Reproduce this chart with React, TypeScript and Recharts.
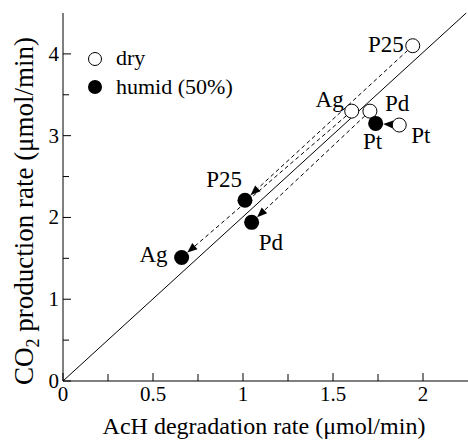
import React from "react";
import { ScatterChart, Scatter, XAxis, YAxis, ReferenceLine, Customized } from "recharts";

// catalysts in the same order for every series
const catalysts = ["P25", "Ag", "Pd", "Pt"];
const dryAcH = [1.943, 1.604, 1.705, 1.868];
const dryCO2 = [4.1, 3.3, 3.3, 3.13];
const humidAcH = [1.011, 0.659, 1.048, 1.737];
const humidCO2 = [2.21, 1.51, 1.94, 3.15];

const xTicks = [0, 0.25, 0.5, 0.75, 1, 1.25, 1.5, 1.75, 2];
const xLabels = [0, 0.5, 1, 1.5, 2];
const yTicks = [0, 0.5, 1, 1.5, 2, 2.5, 3, 3.5, 4];
const yLabels = [0, 1, 2, 3, 4];
const parityLine = [
  { x: 0, y: 0 },
  { x: 2.24, y: 4.5 },
];

const dryData = catalysts.map((name, i) => ({ name, x: dryAcH[i], y: dryCO2[i] }));
const humidData = catalysts.map((name, i) => ({ name, x: humidAcH[i], y: humidCO2[i] }));

const FONT = "Liberation Serif";

// where each point's name sits relative to its marker
const dryLabel: Record<string, { dx: number; dy: number; anchor: string }> = {
  P25: { dx: -9, dy: 6, anchor: "end" },
  Ag: { dx: -8, dy: -4, anchor: "end" },
  Pd: { dx: 15, dy: 0, anchor: "start" },
  Pt: { dx: 12, dy: 18, anchor: "start" },
};
const humidLabel: Record<string, { dx: number; dy: number; anchor: string }> = {
  P25: { dx: -3, dy: -13, anchor: "end" },
  Ag: { dx: -14, dy: 4, anchor: "end" },
  Pd: { dx: 7, dy: 28, anchor: "start" },
  Pt: { dx: -3, dy: 26, anchor: "middle" },
};

const DryDot = (props: any) => {
  const { cx, cy, payload } = props;
  const p = dryLabel[payload.name];
  return (
    <g>
      <circle cx={cx} cy={cy} r={7} fill="#fff" stroke="#000" strokeWidth={1} />
      <text x={cx + p.dx} y={cy + p.dy} textAnchor={p.anchor} fontSize={23} fontFamily={FONT} fill="#000">
        {payload.name}
      </text>
    </g>
  );
};

const HumidDot = (props: any) => {
  const { cx, cy, payload } = props;
  const p = humidLabel[payload.name];
  return (
    <g>
      <circle cx={cx} cy={cy} r={7.5} fill="#000" />
      <text x={cx + p.dx} y={cy + p.dy} textAnchor={p.anchor} fontSize={23} fontFamily={FONT} fill="#000">
        {payload.name}
      </text>
    </g>
  );
};

const arrowShape = (dashed: boolean) => (props: any) => {
  const { x1, y1, x2, y2 } = props;
  const dx = x2 - x1;
  const dy = y2 - y1;
  const len = Math.sqrt(dx * dx + dy * dy);
  const ux = dx / len;
  const uy = dy / len;
  const sx = x1 + ux * 7;
  const sy = y1 + uy * 7;
  const tx = x2 - ux * 7.5;
  const ty = y2 - uy * 7.5;
  const head = 10;
  const bx = tx - ux * head;
  const by = ty - uy * head;
  const px = -uy * 4;
  const py = ux * 4;
  return (
    <g>
      <line x1={sx} y1={sy} x2={bx} y2={by} stroke="#000" strokeWidth={1} strokeDasharray={dashed ? "4 3" : undefined} />
      <polygon points={`${tx},${ty} ${bx + px},${by + py} ${bx - px},${by - py}`} fill="#000" />
    </g>
  );
};

const BottomTick = (props: any) => {
  const { x, y, payload } = props;
  const major = xLabels.includes(payload.value);
  return (
    <g>
      <line x1={x} y1={y} x2={x} y2={y - (major ? 8 : 7)} stroke="#000" />
      {major && (
        <text x={x} y={y + 20} textAnchor="middle" fontSize={21} fontFamily={FONT} fill="#000">
          {payload.value}
        </text>
      )}
    </g>
  );
};

const TopTick = (props: any) => {
  const { x, y, payload } = props;
  const major = xLabels.includes(payload.value);
  return <line x1={x} y1={y} x2={x} y2={y + (major ? 8 : 7)} stroke="#000" />;
};

const LeftTick = (props: any) => {
  const { x, y, payload } = props;
  const major = yLabels.includes(payload.value);
  return (
    <g>
      <line x1={x} y1={y} x2={x + (major ? 8 : 6)} y2={y} stroke="#000" />
      {major && (
        <text x={x - 4} y={y + 7} textAnchor="end" fontSize={21} fontFamily={FONT} fill="#000">
          {payload.value}
        </text>
      )}
    </g>
  );
};

const RightTick = (props: any) => {
  const { x, y, payload } = props;
  const major = yLabels.includes(payload.value);
  return <line x1={x} y1={y} x2={x - (major ? 8 : 6)} y2={y} stroke="#000" />;
};

const Decorations = () => (
  <g fill="#000">
    <circle cx={95} cy={59} r={6.5} fill="#fff" stroke="#000" />
    <text x={116} y={65} fontSize={22} fontFamily={FONT}>dry</text>
    <circle cx={95} cy={87} r={7} fill="#000" />
    <text x={116} y={94} fontSize={22} fontFamily={FONT}>humid (50%)</text>
    <text x={264} y={434} fontSize={24} textAnchor="middle" fontFamily={FONT}>
      AcH degradation rate (μmol/min)
    </text>
    <text x={33} y={211} fontSize={27} textAnchor="middle" fontFamily={FONT} transform="rotate(-90 33 211)">
      CO<tspan fontSize={18} dy={6}>2</tspan>
      <tspan dy={-6}> production rate (μmol/min)</tspan>
    </text>
  </g>
);

export default function App() {
  return (
    <div style={{ position: "absolute", left: 0, top: 0, width: 468, height: 440, overflow: "hidden", background: "#fff" }}>
      <ScatterChart width={468} height={440} margin={{ top: 13, right: 0, bottom: 0, left: 0 }}>
        <XAxis
          type="number"
          dataKey="x"
          domain={[0, 2.25]}
          allowDataOverflow
          ticks={xTicks}
          interval={0}
          tick={<BottomTick />}
          tickLine={false}
          tickSize={0}
          tickMargin={0}
          height={59}
          axisLine={{ stroke: "#000" }}
        />
        <XAxis
          xAxisId="top"
          orientation="top"
          type="number"
          domain={[0, 2.25]}
          allowDataOverflow
          ticks={xTicks}
          interval={0}
          tick={<TopTick />}
          tickLine={false}
          tickSize={0}
          tickMargin={0}
          height={0}
          axisLine={{ stroke: "#000" }}
        />
        <YAxis
          type="number"
          dataKey="y"
          domain={[0, 4.5]}
          allowDataOverflow
          ticks={yTicks}
          interval={0}
          tick={<LeftTick />}
          tickLine={false}
          tickSize={0}
          tickMargin={0}
          width={63}
          axisLine={{ stroke: "#000" }}
        />
        <YAxis
          yAxisId="right"
          orientation="right"
          type="number"
          domain={[0, 4.5]}
          allowDataOverflow
          ticks={yTicks}
          interval={0}
          tick={<RightTick />}
          tickLine={false}
          tickSize={0}
          tickMargin={0}
          width={0}
          axisLine={{ stroke: "#000" }}
        />
        <ReferenceLine segment={parityLine} stroke="#000" strokeWidth={1} />
        {catalysts.map((name, i) => (
          <ReferenceLine
            key={name}
            segment={[
              { x: dryAcH[i], y: dryCO2[i] },
              { x: humidAcH[i], y: humidCO2[i] },
            ]}
            shape={arrowShape(name !== "Pt")}
          />
        ))}
        <Scatter data={dryData} shape={DryDot} isAnimationActive={false} />
        <Scatter data={humidData} shape={HumidDot} isAnimationActive={false} />
        <Customized component={<Decorations />} />
      </ScatterChart>
    </div>
  );
}
